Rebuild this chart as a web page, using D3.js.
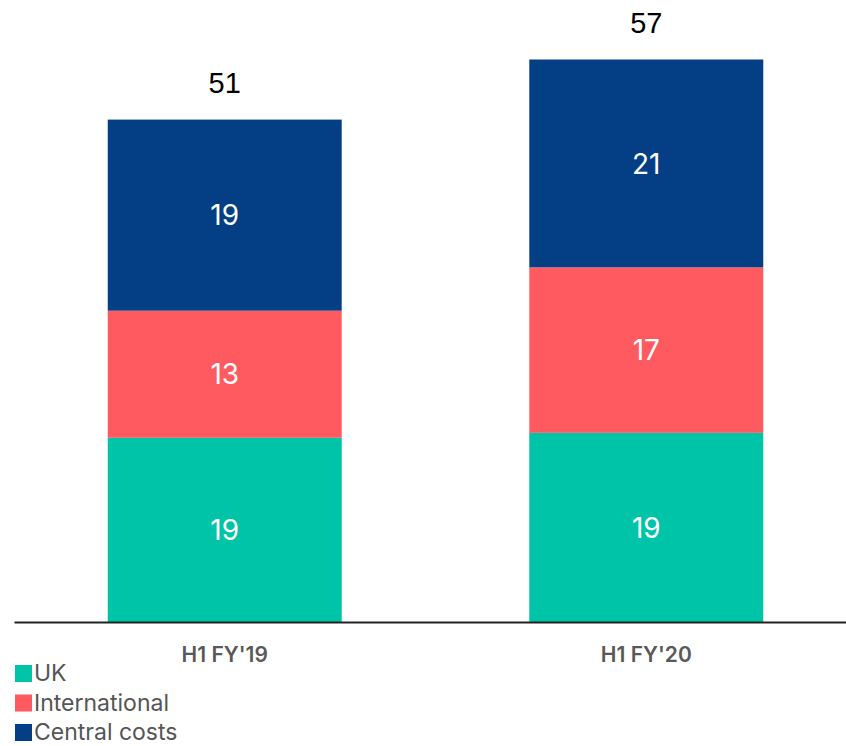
<!DOCTYPE html>
<html><head><meta charset="utf-8">
<script src="https://cdn.jsdelivr.net/npm/d3@7"></script>
<style>body{margin:0;background:#fff}</style>
</head><body>
<svg id="chart" width="846" height="746"></svg>
<script>
const categories = ["H1 FY'19", "H1 FY'20"];
const seriesNames = ["UK", "International", "Central costs"];
const ukValues = [18.7, 19.2];
const internationalValues = [12.9, 16.8];
const centralValues = [19.4, 21.1];
const colors = ["#00c4a7", "#ff5a5f", "#043f85"];

const data = categories.map((c, i) => ({
  cat: c,
  "UK": ukValues[i],
  "International": internationalValues[i],
  "Central costs": centralValues[i]
}));

const svg = d3.select("#chart");
const baseY = 622;
const x = d3.scaleBand().domain(categories).range([15, 856]).paddingInner(0.445).paddingOuter(0.22);
const y = d3.scaleLinear().domain([0, 57.1]).range([baseY, 59.5]);

const stack = d3.stack().keys(seriesNames)(data);

const groups = svg.append("g").selectAll("g").data(stack).join("g")
  .attr("fill", (d, i) => colors[i]);

groups.selectAll("rect").data(d => d).join("rect")
  .attr("x", d => x(d.data.cat))
  .attr("width", x.bandwidth())
  .attr("y", d => y(d[1]))
  .attr("height", d => y(d[0]) - y(d[1]));

groups.selectAll("text").data(d => d).join("text")
  .attr("x", d => x(d.data.cat) + x.bandwidth() / 2)
  .attr("y", d => (y(d[0]) + y(d[1])) / 2)
  .attr("dy", "0.36em")
  .attr("text-anchor", "middle")
  .attr("fill", "#fff")
  .style("font-family", "Inter, 'Noto Sans', sans-serif")
  .style("font-size", "28px")
  .text(d => Math.round(d[1] - d[0]));

// totals
svg.append("g").selectAll("text").data(data).join("text")
  .attr("x", d => x(d.cat) + x.bandwidth() / 2)
  .attr("y", d => y(d["UK"] + d["International"] + d["Central costs"]) - 37)
  .attr("dy", "0.36em")
  .attr("text-anchor", "middle")
  .attr("fill", "#000")
  .style("font-family", "'Liberation Sans', Arial, sans-serif")
  .style("font-size", "29px")
  .text(d => Math.round(d["UK"] + d["International"] + d["Central costs"]));

// axis
const axis = svg.append("g").attr("transform", `translate(0,${baseY})`)
  .call(d3.axisBottom(x).tickSize(0).tickPadding(25));
axis.select(".domain").attr("d", "M14.5,0.5H846").attr("stroke", "#222").attr("stroke-width", 2);
axis.selectAll(".tick text")
  .attr("fill", "#595959")
  .style("font-family", "Inter, 'Noto Sans', sans-serif")
  .style("font-weight", "600")
  .style("font-size", "21px");

// legend
const legend = svg.append("g").selectAll("g").data(seriesNames).join("g")
  .attr("transform", (d, i) => `translate(15,${673 + i * 29.5})`);
legend.append("rect")
  .attr("x", 0).attr("y", -8).attr("width", 17).attr("height", 17)
  .attr("fill", (d, i) => colors[i]);
legend.append("text")
  .attr("x", 19).attr("y", 0).attr("dy", "0.36em")
  .attr("fill", "#555")
  .style("font-family", "Inter, 'Noto Sans', sans-serif")
  .style("font-size", "23px")
  .text(d => d);
</script>
</body></html>
